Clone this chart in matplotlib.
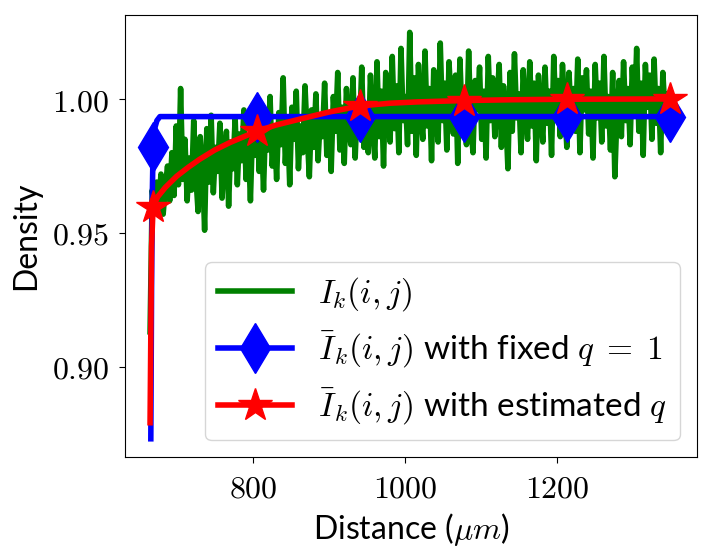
import numpy as np
import matplotlib
matplotlib.use('Agg')
import matplotlib.pyplot as plt

plt.rcParams['font.family'] = ['Lato', 'DejaVu Sans']
plt.rcParams['mathtext.fontset'] = 'cm'
plt.rcParams['font.size'] = 23

meas_y = [0.913, 0.966, 0.958, 0.969, 0.961, 0.972, 0.957, 0.967, 0.975, 0.962,
          0.980, 0.964, 0.990, 0.968, 1.004, 0.970, 0.985, 0.962, 0.978, 0.966,
          0.992, 0.971, 0.958, 0.986, 0.975, 0.951, 0.989, 0.969, 0.994, 0.965,
          0.982, 0.973, 0.991, 0.963, 0.979, 0.988, 0.960, 0.984, 0.974, 0.993,
          0.968, 0.987, 0.977, 0.996, 0.970, 0.985, 0.962, 0.990, 0.979, 0.998,
          0.973, 0.988, 0.966, 0.993, 0.981, 1.001, 0.975, 0.989, 0.970, 0.995,
          0.983, 1.008, 0.976, 0.992, 0.968, 0.997, 0.985, 1.003, 0.974, 0.990,
          0.980, 1.005, 0.987, 0.971, 0.996, 0.982, 1.002, 0.977, 0.993, 0.986,
          1.006, 0.979, 0.995, 0.973, 1.001, 0.988, 1.010, 0.981, 0.997, 0.976,
          1.004, 0.990, 0.983, 1.008, 0.978, 0.999, 0.987, 1.012, 0.982, 0.996,
          0.980, 1.009, 0.991, 0.978, 1.014, 0.986, 1.003, 0.975, 1.010, 0.994,
          0.984, 1.016, 0.989, 1.005, 0.980, 1.019, 0.992, 1.001, 0.983, 1.025,
          0.988, 1.008, 0.979, 1.013, 0.995, 0.985, 1.018, 0.990, 1.004, 0.977,
          1.011, 0.996, 0.984, 1.021, 0.992, 1.006, 0.981, 1.014, 0.998, 0.987,
          1.009, 0.976, 1.015, 0.993, 1.002, 0.983, 1.018, 0.990, 0.980, 1.007,
          0.996, 1.012, 0.985, 1.003, 0.978, 1.016, 0.992, 1.008, 0.986, 0.999,
          1.013, 0.982, 1.005, 0.994, 0.974, 1.010, 0.988, 1.017, 0.993, 1.002,
          0.980, 1.011, 0.996, 0.985, 1.014, 0.990, 1.006, 0.977, 1.009, 0.995,
          0.984, 1.012, 0.991, 1.003, 0.979, 1.016, 0.994, 1.007, 0.986, 1.013,
          0.997, 0.982, 1.010, 0.992, 1.004, 0.988, 1.015, 0.980, 1.008, 0.996,
          1.011, 0.987, 1.003, 0.978, 1.013, 0.993, 1.006, 0.984, 1.016, 0.990,
          1.001, 0.981, 1.010, 0.971, 0.995, 1.007, 0.986, 1.014, 0.992, 1.004,
          0.983, 1.012, 0.994, 1.019, 0.988, 1.006, 0.979, 1.013, 0.997, 1.009,
          0.985, 1.015, 0.991, 1.004, 0.980, 1.010, 0.995, 1.002, 0.987, 0.993]
meas_x = np.linspace(665, 1350, len(meas_y))

# model with fixed q = 1
fixed_x = [666, 667, 668, 669, 671, 674, 678, 805, 941, 1077, 1212, 1348]
fixed_y = [0.873, 0.930, 0.965, 0.982, 0.989, 0.992, 0.9935, 0.9935, 0.9935, 0.9935, 0.9935, 0.9935]
fixed_marks = [3, 7, 8, 9, 10, 11]

# model with estimated q
est_x = [665, 667, 669, 675, 685, 700, 715, 730, 750, 770, 790, 805, 830, 861,
         900, 941, 980, 1017, 1077, 1140, 1212, 1348]
est_y = [0.879, 0.945, 0.9597, 0.9635, 0.9670, 0.9712, 0.9745, 0.9775, 0.9810,
         0.9838, 0.9862, 0.9880, 0.9903, 0.9925, 0.9952, 0.9975, 0.9985, 0.9990,
         0.9995, 0.9998, 1.0000, 1.0001]
est_marks = [2, 11, 15, 18, 20, 21]

xticks = [800, 1000, 1200]
yticks = [0.90, 0.95, 1.00]

fig = plt.figure(figsize=(7.12, 5.59), dpi=100)
ax = fig.add_axes([0.176, 0.1825, 0.8025, 0.7907])

ax.plot(meas_x, meas_y, color='g', lw=4, label=r'$I_k(i,j)$')
ax.plot(fixed_x, fixed_y, color='b', lw=4, marker='d', markersize=25,
        markevery=fixed_marks, label=r'$\bar{I}_k(i,j)$ with fixed $q\;=\;1$')
ax.plot(est_x, est_y, color='r', lw=4, marker='*', markersize=25,
        markevery=est_marks, label=r'$\bar{I}_k(i,j)$ with estimated $q$')

ax.set_xlim(632.5, 1383)
ax.set_ylim(0.8662, 1.0315)
ax.set_xticks(xticks)
ax.set_xticklabels(['$%d$' % t for t in xticks])
ax.set_yticks(yticks)
ax.set_yticklabels(['$%.2f$' % t for t in yticks])
ax.tick_params(axis='x', length=4.5, pad=7.5)
ax.tick_params(axis='y', length=4.5, pad=7)

ax.set_xlabel(r'Distance ($\mu m$)', labelpad=5)
ax.set_ylabel('Density', labelpad=8)

ax.legend(loc='lower right', handlelength=2.2, fontsize=24)

fig.savefig('out.png', dpi=100)
